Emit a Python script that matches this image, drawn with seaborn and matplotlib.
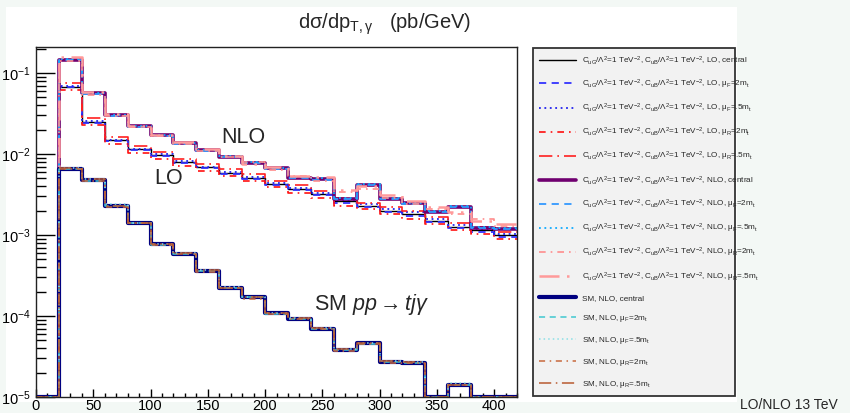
import numpy as np
import matplotlib
matplotlib.use("Agg")
import matplotlib.pyplot as plt
from matplotlib.patches import Rectangle
from matplotlib.ticker import LogLocator, NullFormatter, MultipleLocator
import seaborn as sns

sns.set_theme(style="ticks")
plt.rcParams['font.family'] = ['Liberation Sans', 'DejaVu Sans']
plt.rcParams['mathtext.fontset'] = 'custom'
plt.rcParams['mathtext.rm'] = 'Liberation Sans'
plt.rcParams['mathtext.it'] = 'Liberation Sans:italic'
plt.rcParams['mathtext.default'] = 'regular'

# bin edges in p_T (GeV), 20 GeV bins
edges = np.arange(0, 421, 20)

# EFT signal, LO
lo_central = [0, 0.068, 0.025, 0.0148, 0.0114, 0.0097, 0.0079, 0.0069, 0.0059, 0.0051, 0.0043,
              0.0037, 0.0032, 0.0026, 0.0023, 0.0020, 0.0018, 0.0015, 0.00127, 0.00114, 0.0010]
lo_muf2 = [0, 0.067, 0.0245, 0.0145, 0.0112, 0.0094, 0.0077, 0.0067, 0.0057, 0.0049, 0.0042,
           0.0036, 0.0031, 0.0025, 0.0022, 0.0019, 0.0017, 0.00145, 0.00122, 0.00108, 0.00095]
lo_muf05 = [0, 0.069, 0.0255, 0.0150, 0.0116, 0.0099, 0.0081, 0.0070, 0.0060, 0.0052, 0.0044,
            0.0038, 0.0033, 0.0027, 0.0024, 0.0021, 0.0019, 0.0016, 0.00132, 0.00118, 0.00104]
lo_mur2 = [0, 0.062, 0.0228, 0.0134, 0.0103, 0.0088, 0.0071, 0.0062, 0.0053, 0.0046, 0.0039,
           0.0033, 0.0029, 0.0023, 0.0021, 0.0018, 0.0016, 0.00135, 0.00114, 0.00102, 0.0009]
lo_mur05 = [0, 0.075, 0.0277, 0.0163, 0.0126, 0.0107, 0.0087, 0.0076, 0.0065, 0.0056, 0.0047,
            0.0041, 0.0035, 0.0029, 0.0025, 0.0022, 0.0020, 0.00165, 0.0014, 0.00125, 0.0011]

# EFT signal, NLO
nlo_central = [0, 0.146, 0.056, 0.030, 0.022, 0.017, 0.0136, 0.0111, 0.0093, 0.0078, 0.0067,
               0.0051, 0.0049, 0.0028, 0.0042, 0.0028, 0.0025, 0.0019, 0.0022, 0.00123, 0.0012]
nlo_muf2 = [0, 0.145, 0.0555, 0.0297, 0.0218, 0.0168, 0.0135, 0.0110, 0.0092, 0.0077, 0.0066,
            0.0050, 0.0048, 0.0028, 0.0041, 0.0028, 0.0024, 0.0019, 0.0022, 0.00121, 0.00118]
nlo_muf05 = [0, 0.148, 0.0565, 0.0303, 0.0222, 0.0172, 0.0137, 0.0112, 0.0094, 0.0079, 0.0068,
             0.0052, 0.0050, 0.0029, 0.0043, 0.0029, 0.0025, 0.0020, 0.0023, 0.00125, 0.00122]
nlo_mur2 = [0, 0.141, 0.054, 0.0292, 0.0215, 0.0168, 0.0133, 0.0108, 0.0092, 0.0080, 0.0064,
            0.0053, 0.0046, 0.0034, 0.0037, 0.0029, 0.0024, 0.0021, 0.0018, 0.0016, 0.0013]
nlo_mur05 = [0, 0.156, 0.058, 0.031, 0.0225, 0.0172, 0.0139, 0.0114, 0.0096, 0.0076, 0.0069,
             0.0054, 0.0052, 0.0036, 0.0040, 0.0031, 0.0026, 0.0022, 0.0019, 0.0015, 0.00135]

# SM pp -> t j gamma, NLO
sm_central = [0, 0.0066, 0.0048, 0.0023, 0.0014, 0.00077, 0.00059, 0.00036, 0.00022, 0.00017, 0.000108,
              0.000093, 0.000070, 0.000038, 0.000046, 0.000027, 0.000026, 0, 0.000014, 0, 0]
sm_muf2 = [0, 0.0065, 0.0047, 0.0023, 0.0014, 0.00076, 0.00058, 0.00036, 0.00022, 0.00017, 0.000106,
           0.000092, 0.000069, 0.000038, 0.000045, 0.000027, 0.000026, 0, 0.000014, 0, 0]
sm_muf05 = [0, 0.0067, 0.0049, 0.0024, 0.0014, 0.00078, 0.00060, 0.00037, 0.00023, 0.00017, 0.000110,
            0.000094, 0.000071, 0.000039, 0.000047, 0.000028, 0.000027, 0, 0.000015, 0, 0]
sm_mur2 = [0, 0.0065, 0.0047, 0.0022, 0.0014, 0.00076, 0.00058, 0.00035, 0.00022, 0.00016, 0.000106,
           0.000091, 0.000069, 0.000037, 0.000045, 0.000026, 0.000026, 0, 0.000014, 0, 0]
sm_mur05 = [0, 0.0067, 0.0049, 0.0023, 0.0014, 0.00078, 0.00060, 0.00037, 0.00022, 0.00017, 0.000110,
            0.000094, 0.000071, 0.000039, 0.000047, 0.000028, 0.000027, 0, 0.000014, 0, 0]

eft = r"C$_{uG}/\Lambda^{2}$=1 TeV$^{-2}$, C$_{uB}/\Lambda^{2}$=1 TeV$^{-2}$, "
muF2 = r"$\mu_{F}$=2m$_{t}$"
muF05 = r"$\mu_{F}$=.5m$_{t}$"
muR2 = r"$\mu_{R}$=2m$_{t}$"
muR05 = r"$\mu_{R}$=.5m$_{t}$"

dashed = (0, (4, 3))
dotted = (0, (1, 2))
dashdot = (0, (4, 3, 1, 3))
longdashdot = (0, (8, 3, 1, 3))

series = [
    (lo_central, eft + "LO, central", "black", "-", 1.0),
    (lo_muf2, eft + "LO, " + muF2, "#3333ff", dashed, 1.3),
    (lo_muf05, eft + "LO, " + muF05, "#2222ee", dotted, 1.3),
    (lo_mur2, eft + "LO, " + muR2, "#ff1010", dashdot, 1.2),
    (lo_mur05, eft + "LO, " + muR05, "#ff2020", longdashdot, 1.2),
    (nlo_central, eft + "NLO, central", "#700070", "-", 2.6),
    (nlo_muf2, eft + "NLO, " + muF2, "#3399ff", dashed, 1.3),
    (nlo_muf05, eft + "NLO, " + muF05, "#11aaff", dotted, 1.3),
    (nlo_mur2, eft + "NLO, " + muR2, "#ff8c8c", dashdot, 1.2),
    (nlo_mur05, eft + "NLO, " + muR05, "#ff9a9a", longdashdot, 1.8),
    (sm_central, "SM, NLO, central", "#000080", "-", 3.0),
    (sm_muf2, "SM, NLO, " + muF2, "#40c8d0", dashed, 1.1),
    (sm_muf05, "SM, NLO, " + muF05, "#8adfe6", dotted, 1.1),
    (sm_mur2, "SM, NLO, " + muR2, "#c8683c", dashdot, 1.1),
    (sm_mur05, "SM, NLO, " + muR05, "#b85a30", longdashdot, 1.1),
]

ymin, ymax = 1e-5, 0.21

W, H = 850, 413
fig = plt.figure(figsize=(W / 100, H / 100), dpi=100)
fig.patch.set_facecolor("#f3f8f5")
# white canvas
fig.patches.append(Rectangle((6 / W, 1 - 402 / H), (737 - 6) / W, (402 - 7) / H,
                             transform=fig.transFigure, facecolor="white", edgecolor="none", zorder=-10))

ax = fig.add_axes([36 / W, 1 - 397 / H, (517 - 36) / W, (397 - 47) / H])
ax.set_facecolor("white")

for vals, label, color, ls, lw in series:
    v = np.maximum(np.asarray(vals, dtype=float), ymin)
    sns.lineplot(x=edges, y=np.r_[v, v[-1]], drawstyle="steps-post", color=color,
                 linestyle=ls, linewidth=lw, label=label, ax=ax, legend=False)

ax.set_yscale("log")
ax.set_xlim(0, 420)
ax.set_ylim(ymin, ymax)
ax.set_xlabel("")
ax.set_ylabel("")
ax.xaxis.set_major_locator(MultipleLocator(50))
ax.xaxis.set_minor_locator(MultipleLocator(10))
ax.yaxis.set_minor_locator(LogLocator(base=10, subs=np.arange(2, 10)))
ax.yaxis.set_minor_formatter(NullFormatter())
ax.tick_params(axis="both", which="both", direction="in", top=False, right=False,
               labelsize=10.5, colors="black")
ax.tick_params(axis="y", which="major", length=14, width=1, pad=4)
ax.tick_params(axis="y", which="minor", length=7, width=1)
ax.tick_params(axis="x", which="major", length=5.5, width=1, pad=1.5)
ax.tick_params(axis="x", which="minor", length=3, width=1)
for s in ax.spines.values():
    s.set_color("#222222")
    s.set_linewidth(1.0)

ax.text(181, 0.0162, "NLO", fontsize=15.5, ha="center", va="center")
ax.text(116, 0.0050, "LO", fontsize=15.5, ha="center", va="center")
ax.text(293, 1.4e-4, r"SM $\mathit{pp} \rightarrow \mathit{tj}\mathit{\gamma}$", fontsize=15.5,
        ha="center", va="center")

fig.text(385 / W, 1 - 24 / H, r"d$\sigma$/dp$_{T,\gamma}$   (pb/GeV)", fontsize=14.5,
         ha="center", va="center")
fig.text(740 / W, 1 - 405 / H, "LO/NLO 13 TeV", fontsize=10, ha="left", va="center")

handles, labels = ax.get_legend_handles_labels()
leg = fig.legend(handles, labels, loc="upper left",
                 bbox_to_anchor=(533 / W, 1 - 395 / H, (735 - 533) / W, (395 - 48) / H),
                 mode="expand", fontsize=5.9, frameon=True, fancybox=False,
                 handlelength=4.5, handletextpad=0.73, borderpad=0.75, labelspacing=1.33,
                 borderaxespad=0)
leg.get_frame().set_facecolor("#f2f2f2")
leg.get_frame().set_edgecolor("#333333")
leg.get_frame().set_linewidth(1.3)
leg.get_frame().set_alpha(1)

fig.savefig("out.png", dpi=100, facecolor=fig.get_facecolor())
